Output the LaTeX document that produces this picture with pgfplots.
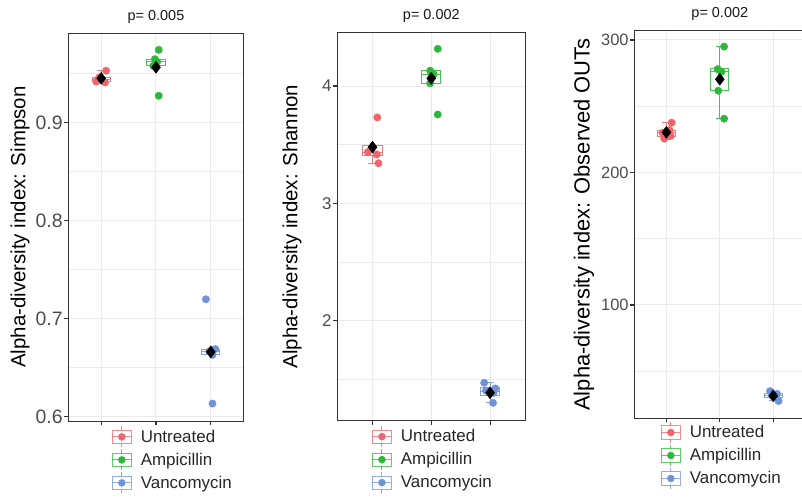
\documentclass[border=0pt]{standalone}
\usepackage{fontspec}
\setmainfont{Liberation Sans}
\usepackage{pgfplots}
\pgfplotsset{compat=1.18}
\usepgfplotslibrary{statistics}

\definecolor{cUnt}{HTML}{F0646C}
\definecolor{cAmp}{HTML}{2DB83A}
\definecolor{cVan}{HTML}{6F93DB}
\definecolor{gridc}{HTML}{EBEBEB}
\definecolor{framec}{HTML}{333333}
\definecolor{tickc}{HTML}{4D4D4D}

\pgfplotsset{
  alpha panel/.style={
    scale only axis,
    xmin=0.4, xmax=3.6,
    xtick={1,2,3}, xticklabels={},
    tick pos=left, tick align=outside,
    major tick length=4bp, minor tick length=0pt,
    every tick/.style={framec, line width=1.1bp},
    axis line style={framec, line width=0.8bp},
    xmajorgrids, ymajorgrids, yminorgrids,
    major grid style={gridc, line width=1bp},
    minor grid style={gridc, line width=0.6bp},
    yticklabel style={tickc, inner sep=1.5bp},
    title style={font=\fontsize{14.5}{16}\selectfont, color=black!90,
      anchor=south, inner sep=0pt, yshift=4bp},
    ylabel style={at={(axis description cs:#1,0.5)}, anchor=center},
    legend cell align=left,
    legend image code/.code={
      \draw[##1, line width=1bp, opacity=0.75] (9.5bp,-10.5bp) -- (9.5bp,10.5bp);
      \draw[##1, line width=1bp, opacity=0.75, fill=white] (0bp,-6.5bp) rectangle (19bp,6.5bp);
      \draw[##1, line width=1bp, opacity=0.75] (0bp,0bp) -- (19bp,0bp);
      \fill[##1] (9.5bp,0bp) circle (3.5bp);
    },
  },
  bxp/.style={forget plot, draw=#1, draw opacity=0.85, line width=1bp, fill=white,
    boxplot/draw direction=y},
  pts/.style={forget plot, only marks, mark=*, mark size=3.7bp, color=#1, mark options={draw=none, fill=#1}},
  avg/.style={forget plot, only marks, mark=diamond*, mark size=6bp, black},
  leg/.style={legend style={at={(axis description cs:#1)}, anchor=north west,
      draw=none, fill=none, inner sep=0pt, row sep=1bp, column sep=7bp,
      font=\fontsize{17}{19}\selectfont, text=black!85}},
}

\begin{document}
\begin{tikzpicture}

% Simpson
\begin{axis}[alpha panel=-0.275,
  at={(68.3bp,79bp)}, anchor=south west, width=175.4bp, height=387.7bp,
  ymin=0.5956, ymax=0.9912,
  ytick={0.6,0.7,0.8,0.9}, yticklabels={0.6,0.7,0.8,0.9},
  minor ytick={0.65,0.75,0.85,0.95},
  yticklabel style={font=\fontsize{19.5}{21}\selectfont},
  ylabel={Alpha-diversity index: Simpson},
  ylabel style={font=\fontsize{20.5}{23}\selectfont},
  title={p= 0.005},
  leg={0.247,0}, legend style={yshift=-4.7bp}]
\addlegendimage{cUnt}
\addlegendimage{cAmp}
\addlegendimage{cVan}
\legend{Untreated,Ampicillin,Vancomycin}
\addplot[bxp=cUnt, boxplot prepared={draw position=1, lower whisker=0.941,
  lower quartile=0.942, median=0.944, upper quartile=0.946, upper whisker=0.953,
  box extend=0.33, whisker extend=0.15}] coordinates {};
\addplot[bxp=cAmp, boxplot prepared={draw position=2, lower whisker=0.958,
  lower quartile=0.958, median=0.962, upper quartile=0.9648, upper whisker=0.9648,
  box extend=0.33, whisker extend=0.15}] coordinates {};
\addplot[bxp=cVan, boxplot prepared={draw position=3, lower whisker=0.663,
  lower quartile=0.663, median=0.6665, upper quartile=0.669, upper whisker=0.669,
  box extend=0.33, whisker extend=0.15}] coordinates {};
\addplot[pts=cUnt] coordinates {(1.09,0.953) (0.96,0.946) (1.07,0.941) (0.91,0.942) (1.02,0.944)};
\addplot[pts=cAmp] coordinates {(2.05,0.9743) (1.98,0.9648) (2.02,0.962) (1.95,0.958) (2.05,0.9275)};
\addplot[pts=cVan] coordinates {(2.91,0.7198) (3.08,0.669) (2.97,0.6665) (3.03,0.663) (3.03,0.6134)};
\addplot[avg] coordinates {(1,0.9452) (2,0.9564) (3,0.6661)};
\end{axis}

% Shannon
\begin{axis}[alpha panel=-0.241,
  at={(337.3bp,79.3bp)}, anchor=south west, width=188bp, height=388.4bp,
  ymin=1.148, ymax=4.4576,
  ytick={2,3,4}, yticklabels={2,3,4},
  minor ytick={1.5,2.5,3.5},
  yticklabel style={font=\fontsize{17}{19}\selectfont},
  ylabel={Alpha-diversity index: Shannon},
  ylabel style={font=\fontsize{20.5}{23}\selectfont},
  title={p= 0.002},
  leg={0.183,0}, legend style={yshift=-4.7bp}]
\addlegendimage{cUnt}
\addlegendimage{cAmp}
\addlegendimage{cVan}
\legend{Untreated,Ampicillin,Vancomycin}
\addplot[bxp=cUnt, boxplot prepared={draw position=1, lower whisker=3.342,
  lower quartile=3.41, median=3.437, upper quartile=3.49, upper whisker=3.49,
  box extend=0.33, whisker extend=0.15}] coordinates {};
\addplot[bxp=cAmp, boxplot prepared={draw position=2, lower whisker=4.023,
  lower quartile=4.023, median=4.10, upper quartile=4.131, upper whisker=4.131,
  box extend=0.33, whisker extend=0.15}] coordinates {};
\addplot[bxp=cVan, boxplot prepared={draw position=3, lower whisker=1.30,
  lower quartile=1.36, median=1.40, upper quartile=1.428, upper whisker=1.471,
  box extend=0.33, whisker extend=0.15}] coordinates {};
\addplot[pts=cUnt] coordinates {(1.08,3.732) (0.97,3.46) (0.92,3.437) (1.07,3.417) (1.10,3.342)};
\addplot[pts=cAmp] coordinates {(2.11,4.317) (1.98,4.131) (2.04,4.10) (1.98,4.023) (2.11,3.757)};
\addplot[pts=cVan] coordinates {(2.90,1.471) (3.09,1.423) (2.93,1.405) (3.06,1.385) (3.05,1.300)};
\addplot[avg] coordinates {(1,3.479) (2,4.066) (3,1.386)};
\end{axis}

% Observed OTUs
\begin{axis}[alpha panel=-0.294,
  at={(634.3bp,81.7bp)}, anchor=south west, width=171bp, height=387.6bp,
  ymin=14.49, ymax=307.0,
  ytick={100,200,300}, yticklabels={100,200,300},
  minor ytick={50,150,250},
  yticklabel style={font=\fontsize{16.5}{18}\selectfont},
  ylabel={Alpha-diversity index: Observed OUTs},
  ylabel style={font=\fontsize{22}{25}\selectfont},
  title={p= 0.002},
  leg={0.154,0}, legend style={yshift=-3bp}]
\addlegendimage{cUnt}
\addlegendimage{cAmp}
\addlegendimage{cVan}
\legend{Untreated,Ampicillin,Vancomycin}
\addplot[bxp=cUnt, boxplot prepared={draw position=1, lower whisker=225,
  lower quartile=227.5, median=230, upper quartile=232, upper whisker=237.6,
  box extend=0.33, whisker extend=0.15}] coordinates {};
\addplot[bxp=cAmp, boxplot prepared={draw position=2, lower whisker=240.6,
  lower quartile=261.7, median=276, upper quartile=278.6, upper whisker=295,
  box extend=0.33, whisker extend=0.15}] coordinates {};
\addplot[bxp=cVan, boxplot prepared={draw position=3, lower whisker=28,
  lower quartile=30, median=31.5, upper quartile=33, upper whisker=35,
  box extend=0.33, whisker extend=0.15}] coordinates {};
\addplot[pts=cUnt] coordinates {(1.10,237.6) (1.06,232) (0.93,230) (1.08,227.5) (0.96,225.5)};
\addplot[pts=cAmp] coordinates {(2.08,295) (1.96,278) (2.03,276) (1.97,261.7) (2.08,240.6)};
\addplot[pts=cVan] coordinates {(2.94,35) (3.07,33) (2.98,31.5) (3.05,30) (3.10,27.5)};
\addplot[avg] coordinates {(1,230.3) (2,270.3) (3,31.5)};
\end{axis}

\pgfresetboundingbox
\useasboundingbox (0,0) rectangle (802bp,500bp);
\end{tikzpicture}
\end{document}
